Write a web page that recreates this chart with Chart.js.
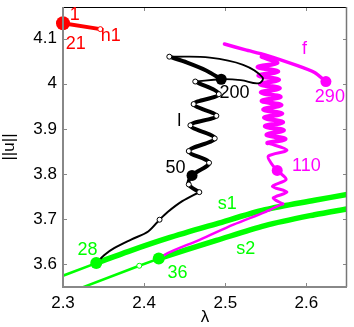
<!DOCTYPE html>
<html>
<head>
<meta charset="utf-8">
<script src="https://cdn.jsdelivr.net/npm/chart.js@4.4.1/dist/chart.umd.min.js"></script>
<style>
  html,body{margin:0;padding:0;background:#fff}
  #wrap{width:354px;height:327px;position:relative}
</style>
</head>
<body>
<div id="wrap"><canvas id="c"></canvas></div>
<script>
const xTicks = [2.3, 2.4, 2.5, 2.6];
const yTicks = [3.6, 3.7, 3.8, 3.9, 4.0, 4.1];

// branches as [lambda, ||u||]
const s1Start  = [[2.300,3.575],[2.341,3.603]];
const s1Branch = [[2.341,3.603],[2.381,3.629],[2.429,3.658],[2.489,3.690],[2.549,3.721],[2.610,3.742],[2.650,3.755]];
const s2Start  = [[2.324,3.549],[2.394,3.597],[2.418,3.613]];
const s2Branch = [[2.418,3.613],[2.489,3.653],[2.549,3.686],[2.610,3.710],[2.650,3.723]];

const magLow = [[2.418,3.612],[2.429,3.625],[2.469,3.655],[2.510,3.688],[2.549,3.716],[2.571,3.734]];
const magZig = [[2.571,3.734],[2.559,3.747],[2.576,3.760],[2.558,3.773],[2.575,3.788],[2.564,3.808],[2.557,3.823],[2.553,3.840],[2.576,3.853],[2.552,3.869]];
const magZigUp = [[2.552,3.869],[2.574,3.878],[2.551,3.887],[2.572,3.897],[2.549,3.906],[2.571,3.915],[2.548,3.925],[2.570,3.934],[2.547,3.943],[2.569,3.953],[2.545,3.962],[2.568,3.971],[2.544,3.981],[2.567,3.990],[2.543,3.999],[2.566,4.009],[2.541,4.018],[2.565,4.027],[2.540,4.037],[2.564,4.046],[2.545,4.060]];
const fBranch = [[2.499,4.088],[2.525,4.075],[2.549,4.064],[2.589,4.040],[2.610,4.025],[2.624,4.005]];

const lLow  = [[2.341,3.603],[2.351,3.621],[2.363,3.636],[2.384,3.655],[2.405,3.673],[2.419,3.699],[2.429,3.716],[2.447,3.740],[2.468,3.760]];
const lZig  = [[2.468,3.760],[2.455,3.777],[2.459,3.797],[2.480,3.825],[2.455,3.851],[2.487,3.879],[2.457,3.908],[2.489,3.929],[2.461,3.955],[2.492,3.977],[2.463,4.005]];
const lTop  = [[2.463,4.005],[2.495,4.010],[2.519,4.008],[2.541,4.001],[2.546,4.014],[2.522,4.042],[2.481,4.058],[2.431,4.060]];
const lFold = [[2.431,4.060],[2.453,4.047],[2.477,4.029],[2.495,4.010]];

const h1Branch = [[2.300,4.134],[2.346,4.121]];

// labelled points
const redDots     = [[2.300,4.134]];
const redOpen     = [[2.346,4.121]];
const greenDots   = [[2.341,3.603],[2.418,3.613]];
const greenOpen   = [[2.394,3.597]];
const blackDots   = [[2.459,3.797],[2.495,4.010]];
const blackOpen   = [[2.419,3.699],[2.468,3.760],[2.455,3.777],[2.480,3.825],[2.455,3.851],[2.487,3.879],[2.457,3.908],[2.489,3.929],[2.461,3.955],[2.492,3.977],[2.463,4.005],[2.431,4.060]];
const magentaDots = [[2.564,3.808],[2.624,4.005]];
const magentaSmall= [[2.418,3.612]];

// text labels [text, lambda, ||u||, colour]
const notes = [
  ["1",   2.3145, 4.152, "#ff0000"],
  ["21",  2.3157, 4.089, "#ff0000"],
  ["h1",  2.3590, 4.105, "#ff0000"],
  ["28",  2.3301, 3.631, "#00ff00"],
  ["36",  2.4410, 3.580, "#00ff00"],
  ["s1",  2.5024, 3.734, "#00ff00"],
  ["s2",  2.5253, 3.635, "#00ff00"],
  ["l",   2.4434, 3.917, "#000000"],
  ["50",  2.4386, 3.813, "#000000"],
  ["200", 2.5114, 3.980, "#000000"],
  ["110", 2.6000, 3.818, "#ff00ff"],
  ["f",   2.5976, 4.076, "#ff00ff"],
  ["290", 2.6289, 3.971, "#ff00ff"]
];

const FONT = "'Liberation Sans', Arial, Helvetica, sans-serif";
const pts = a => a.map(([x,y]) => ({x, y}));

function curve(arr, color, width, order, tension){
  return { data: pts(arr), showLine: true, borderColor: color, borderWidth: width,
    pointRadius: 0, tension: tension || 0, fill: false, order,
    borderCapStyle: 'round', borderJoinStyle: 'round' };
}
function dots(arr, color, r, order, open){
  return { data: pts(arr), showLine: false, pointRadius: r, pointHoverRadius: r,
    pointBackgroundColor: open ? '#fff' : color, pointBorderColor: color,
    pointBorderWidth: open ? 1 : 0, order, clip: false };
}

const deco = {
  id: 'deco',
  afterDraw(chart){
    const {ctx, chartArea: a, scales: {x, y}} = chart;
    ctx.save();
    // inward ticks
    ctx.strokeStyle = '#888'; ctx.lineWidth = 1;
    ctx.beginPath();
    xTicks.forEach(v => {
      const px = Math.round(x.getPixelForValue(v)) + 0.5;
      ctx.moveTo(px, a.bottom); ctx.lineTo(px, a.bottom - 4);
      ctx.moveTo(px, a.top); ctx.lineTo(px, a.top + 4);
    });
    yTicks.forEach(v => {
      const py = Math.round(y.getPixelForValue(v)) + 0.5;
      ctx.moveTo(a.left, py); ctx.lineTo(a.left + 4, py);
      ctx.moveTo(a.right, py); ctx.lineTo(a.right - 4, py);
    });
    ctx.stroke();
    // box
    ctx.strokeStyle = '#000'; ctx.lineWidth = 1;
    ctx.beginPath(); ctx.moveTo(a.left, a.top + 0.5); ctx.lineTo(a.right, a.top + 0.5); ctx.stroke();
    ctx.strokeStyle = '#777'; ctx.lineWidth = 1.5;
    ctx.beginPath(); ctx.moveTo(a.right - 0.5, a.top); ctx.lineTo(a.right - 0.5, a.bottom); ctx.stroke();
    ctx.strokeStyle = '#888'; ctx.lineWidth = 2;
    ctx.beginPath(); ctx.moveTo(a.left, a.top); ctx.lineTo(a.left, a.bottom); ctx.lineTo(a.right, a.bottom); ctx.stroke();
    // notes
    ctx.font = "18px " + FONT;
    ctx.textAlign = 'center'; ctx.textBaseline = 'middle';
    notes.forEach(([t, lx, ly, c]) => {
      ctx.fillStyle = c;
      ctx.fillText(t, x.getPixelForValue(lx), y.getPixelForValue(ly));
    });
    // axis titles
    ctx.fillStyle = '#000';
    ctx.font = "17px " + FONT;
    ctx.fillText('λ', (a.left + a.right) / 2, 317);
    ctx.translate(9, (a.top + a.bottom) / 2);
    ctx.rotate(-Math.PI / 2);
    ctx.fillText('||u||', 0, 0);
    ctx.restore();
  }
};

new Chart(document.getElementById('c'), {
  type: 'scatter',
  data: {
    datasets: [
      dots(redDots, '#ff0000', 7, 0),
      dots(redOpen, '#ff0000', 2.5, 0, true),
      dots(greenDots, '#00ff00', 6, 0),
      dots(greenOpen, '#00ff00', 2.5, 0, true),
      dots(magentaSmall, '#ff00ff', 3, 0),
      dots(blackDots, '#000000', 5.5, 0),
      dots(magentaDots, '#ff00ff', 5.5, 0),
      dots(blackOpen, '#000000', 2.5, 1, true),
      curve(h1Branch, '#ff0000', 4, 2),
      curve(lZig, '#000000', 4, 2, 0.35),
      curve(lFold, '#000000', 4, 2, 0.3),
      curve(lTop, '#000000', 1.8, 2, 0.4),
      curve(lLow, '#000000', 2, 2, 0.3),
      curve(fBranch, '#ff00ff', 3.5, 3, 0.2),
      curve(magZigUp, '#ff00ff', 4.5, 3, 0.3),
      curve(magZig, '#ff00ff', 3, 3, 0.3),
      curve(magLow, '#ff00ff', 2.5, 3, 0.3),
      curve(s1Branch, '#00ff00', 5.5, 4, 0.3),
      curve(s1Start, '#00ff00', 2.5, 4),
      curve(s2Branch, '#00ff00', 5.5, 4, 0.3),
      curve(s2Start, '#00ff00', 2.5, 4)
    ]
  },
  options: {
    responsive: true,
    maintainAspectRatio: false,
    devicePixelRatio: 1,
    animation: false,
    layout: { padding: { top: 2, right: 1, left: 0, bottom: 0 } },
    plugins: { legend: { display: false }, tooltip: { enabled: false } },
    scales: {
      x: {
        type: 'linear', min: 2.3, max: 2.65,
        grid: { display: false, drawTicks: false }, border: { display: false },
        afterBuildTicks: s => { s.ticks = xTicks.map(v => ({value: v})); },
        afterFit: s => { s.height = 40; s.paddingLeft = 0; s.paddingRight = 0; },
        ticks: { color: '#000', padding: 6, font: { family: FONT, size: 17 },
          callback: v => String(Number(v.toFixed(1))) }
      },
      y: {
        type: 'linear', min: 3.55, max: 4.17,
        grid: { display: false, drawTicks: false }, border: { display: false },
        afterBuildTicks: s => { s.ticks = yTicks.map(v => ({value: v})); },
        afterFit: s => { s.width = 63; s.paddingTop = 0; s.paddingBottom = 0; },
        ticks: { color: '#000', padding: 6, font: { family: FONT, size: 17 },
          callback: v => String(Number(v.toFixed(1))) }
      }
    }
  },
  plugins: [deco]
});
</script>
</body>
</html>
